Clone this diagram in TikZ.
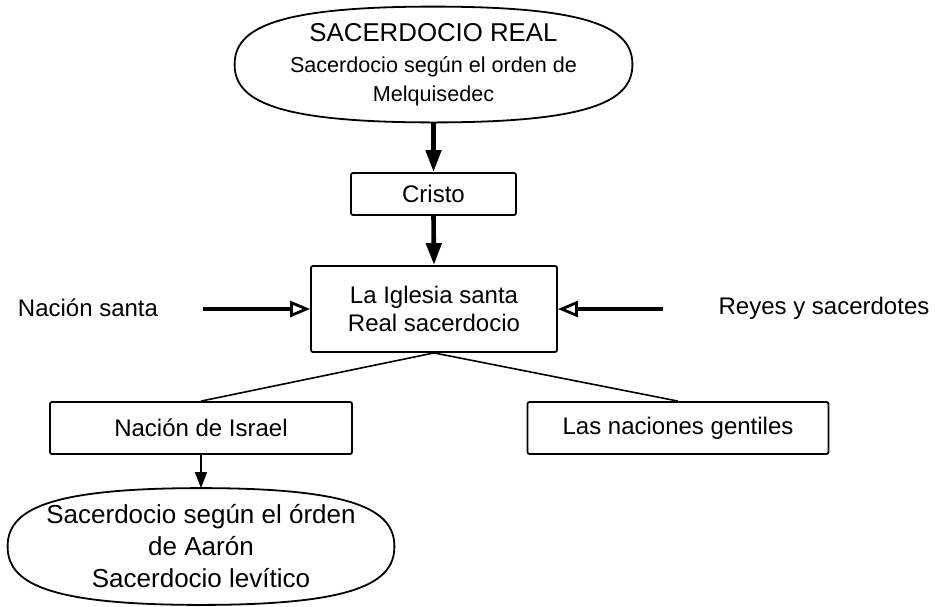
\documentclass[tikz,border=0pt]{standalone}
\usepackage{fontspec}
\setmainfont{Liberation Sans}
\usetikzlibrary{arrows.meta, positioning, calc}

% frame of a terminal shape drawn round a named node
\newcommand{\termframe}[1]{%
  \draw[line width=0.9pt]
    (#1.north) .. controls ($(#1.north)!0.8!(#1.north west)$) and ($(#1.west)!0.62!(#1.north west)$) .. (#1.west)
    .. controls ($(#1.west)!0.62!(#1.south west)$) and ($(#1.south)!0.8!(#1.south west)$) .. (#1.south)
    .. controls ($(#1.south)!0.8!(#1.south east)$) and ($(#1.east)!0.62!(#1.south east)$) .. (#1.east)
    .. controls ($(#1.east)!0.62!(#1.north east)$) and ($(#1.north)!0.8!(#1.north east)$) .. (#1.north);}

\begin{document}
\begin{tikzpicture}[
  x=0.5pt, y=-0.5pt,
  every node/.style={font=\fontsize{12}{14}\selectfont},
  box/.style={draw, line width=0.9pt, rounded corners=1pt, inner sep=2pt,
              align=center, minimum height=26pt},
  term/.style={inner sep=0pt, align=center},
  fat/.style={line width=2.3pt, -{Triangle[length=11pt, width=7.5pt]}},
  hollow/.style={line width=2.2pt, -{Triangle[open, length=10pt, width=8pt, line width=1.4pt]}},
  thin/.style={line width=0.7pt, -{Triangle[length=8pt, width=6pt]}},
  link/.style={line width=0.8pt}
]
\useasboundingbox (0,0) rectangle (935,606);

%% ---- TOP ----------------------------------------------------------
\node[term, minimum width=198.5pt, minimum height=57.5pt,
      font=\fontsize{10.8}{14.5}\selectfont] (real) at (433.5, 64.5)
  {{\fontsize{12.9}{15}\selectfont SACERDOCIO REAL}\\[1pt]
   Sacerdocio según el orden de\\ Melquisedec};
\termframe{real}

\node[box, minimum width=82.5pt, minimum height=21pt] (cristo) at (433.5, 194) {Cristo};
\node[box, minimum width=123pt, minimum height=43pt] (iglesia) at (434, 309)
  {La Iglesia santa\\ Real sacerdocio};

\draw[fat] (real.south) -- (cristo.north);
\draw[fat] (cristo.south) -- (iglesia.north);

%% ---- SIDES --------------------------------------------------------
\node (santa) at (88, 308) {Nación santa};
\node (reyes) at (824, 308) {Reyes y sacerdotes};
\coordinate (lstart) at (203, 309);
\coordinate (rstart) at (663, 309);

\draw[hollow] (lstart) -- (iglesia.west);
\draw[hollow] (rstart) -- (iglesia.east);

%% ---- NATIONS ------------------------------------------------------
\node[box, minimum width=151pt] (israel)   at (201, 428) {Nación de Israel};
\node[box, minimum width=150.5pt] (gentiles) at (678, 428) {Las naciones gentiles};

\draw[link] (iglesia.south) -- (israel.north);
\draw[link] (iglesia.south) -- (gentiles.north);

%% ---- BOTTOM -------------------------------------------------------
\node[term, minimum width=193pt, minimum height=58pt,
      font=\fontsize{13}{16}\selectfont] (aaron) at (201, 546.5)
  {Sacerdocio según el órden\\ de Aarón\\ Sacerdocio levítico};
\termframe{aaron}

\draw[thin] (israel.south) -- (aaron.north);

\end{tikzpicture}
\end{document}
